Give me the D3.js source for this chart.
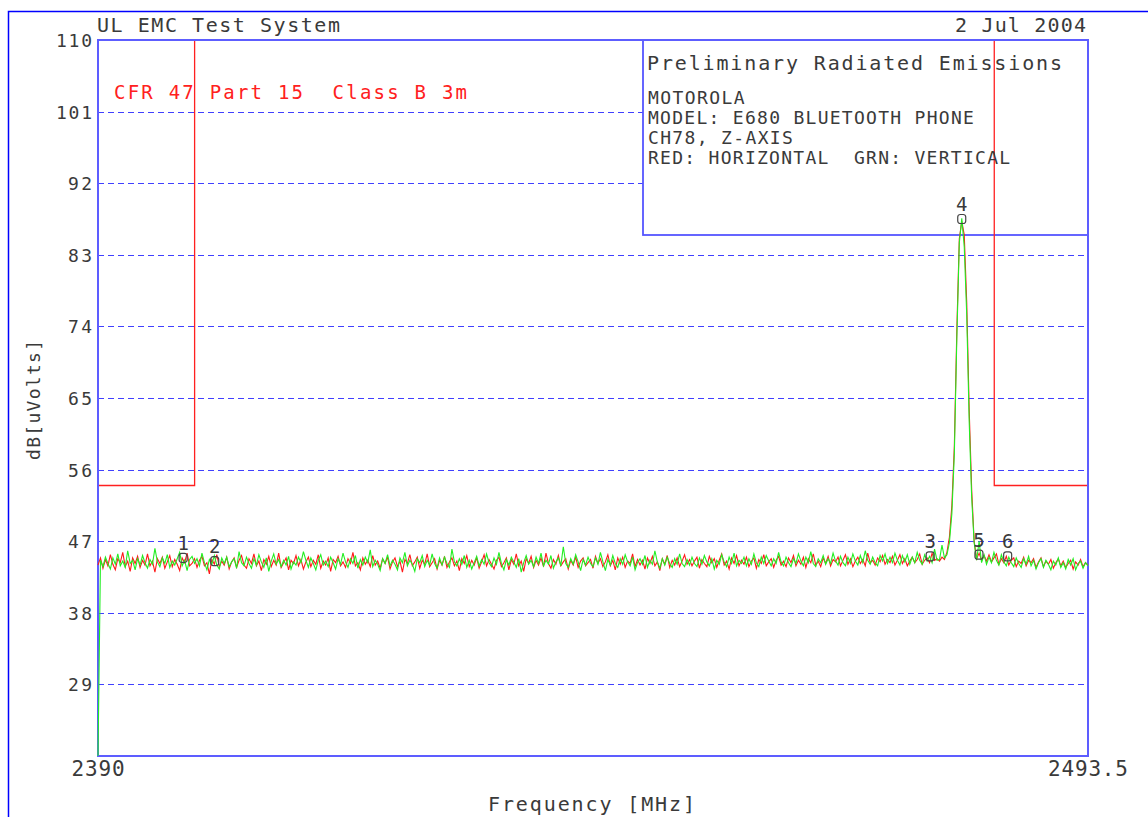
<!DOCTYPE html>
<html>
<head>
<meta charset="utf-8">
<script src="https://cdn.jsdelivr.net/npm/d3@7"></script>
<style>
  html, body { margin: 0; padding: 0; background: #fff; }
  text { font-family: "DejaVu Sans Mono", "Liberation Mono", monospace; fill: #3a3a3a; white-space: pre; }
</style>
</head>
<body>
<div id="chart"></div>
<script>
// sweep settings
const startFreq = 2390
const stopFreq = 2493.5
const yTicks = [29, 38, 47, 56, 65, 74, 83, 92, 101, 110]
const xTickLabels = ['2390', '2493.5']

// limit line: CFR 47 Part 15 Class B 3m (restricted bands)
const limitFreqs = [2390, 2400.1, 2400.1, 2483.7, 2483.7, 2493.5]
const limitLevels = [54, 54, 110, 110, 54, 54]

// horizontal trace (red), 401 sweep points, dB[uV]
const redTrace = [
  44.0,44.9,43.6,44.7,43.9,45.3,44.1,43.4,44.8,44.3,45.6,43.8,44.5,43.2,44.9,44.2,45.1,43.7,44.6,44.0,
  45.4,43.9,44.5,43.1,44.8,44.2,45.0,43.6,44.4,45.2,43.8,44.7,44.1,43.3,44.9,44.3,45.5,43.9,44.2,44.8,
  43.7,44.6,45.1,43.9,44.3,42.9,44.7,44.1,45.3,43.8,44.5,44.0,45.0,43.5,44.4,44.9,43.7,44.6,45.2,44.0,
  43.6,44.8,44.2,45.4,43.9,44.5,43.3,44.7,44.1,45.1,43.8,44.6,44.0,45.5,43.7,44.3,44.9,43.4,44.6,44.2,
  45.2,43.9,44.7,43.5,44.4,45.0,43.8,44.6,44.1,45.3,43.6,44.5,44.0,44.9,43.2,44.7,44.3,45.1,43.9,44.4,
  43.7,44.8,44.2,45.6,43.9,44.3,43.4,44.9,44.1,44.6,43.8,45.2,44.0,44.5,43.6,44.8,44.2,45.0,43.5,44.4,
  44.9,43.8,44.5,43.1,44.7,44.2,45.3,43.9,44.4,45.0,43.6,44.6,44.1,45.4,43.8,44.3,44.8,43.5,44.6,44.0,
  45.1,43.7,44.4,44.9,43.9,44.5,43.3,44.8,44.2,45.2,43.8,44.6,44.0,44.9,43.6,44.4,45.3,43.9,44.7,44.1,
  43.5,44.6,45.0,43.8,44.3,44.9,43.4,44.7,44.1,45.4,43.9,44.5,43.2,44.8,44.2,45.1,43.7,44.6,44.0,44.9,
  43.8,45.5,44.2,43.6,44.7,44.1,45.2,43.9,44.4,44.8,43.5,44.6,44.0,45.0,43.7,44.5,44.9,43.9,44.3,44.7,
  43.6,45.1,44.2,44.8,43.8,44.4,45.3,43.9,44.6,43.4,44.9,44.1,45.0,43.7,44.5,44.2,45.4,43.8,44.7,44.0,
  44.6,43.5,44.9,44.2,45.1,43.9,44.4,43.3,44.8,44.1,45.2,43.7,44.6,44.0,44.9,43.8,44.5,45.3,44.1,44.7,
  43.9,44.5,45.0,43.6,44.7,44.2,43.8,45.1,44.3,44.8,43.7,44.6,45.4,44.0,44.5,43.5,44.9,44.2,45.2,43.9,
  44.6,44.1,45.0,43.8,44.5,44.9,43.6,44.7,44.2,45.3,43.9,44.4,44.8,43.7,44.6,45.1,44.0,44.5,43.8,44.9,
  44.3,45.2,43.9,44.6,44.1,45.0,43.7,44.8,44.3,45.4,44.0,44.5,43.8,44.9,44.2,45.1,43.9,44.7,44.4,45.0,
  43.9,44.6,45.3,44.1,44.8,43.8,44.5,45.0,44.2,44.7,43.9,45.5,44.3,44.6,44.0,44.9,44.4,45.2,44.1,44.7,
  44.3,45.1,44.0,44.6,45.3,44.2,44.8,43.9,44.5,45.0,44.3,44.7,45.4,44.1,44.6,44.9,44.3,45.5,44.6,44.8,
  44.5,45.0,44.7,45.6,47.5,51.5,59.0,73.5,85.0,87.2,85.5,77.0,63.5,53.5,47.0,44.8,45.5,44.6,45.2,44.5,
  45.3,44.4,44.9,45.4,44.1,44.8,44.3,45.1,44.0,44.6,44.9,43.8,44.5,44.2,45.0,43.9,44.6,44.3,44.8,43.7,
  44.4,44.9,43.8,44.5,44.1,44.7,43.6,44.3,44.8,43.9,44.5,43.7,44.2,44.6,43.5,44.4,44.0,44.7,43.8,44.3,
  44.0
]

// vertical trace (green), 401 sweep points, dB[uV]
const greenTrace = [
  20.0,44.6,43.8,45.0,44.2,43.5,44.9,44.1,45.4,43.9,44.5,43.7,45.8,44.2,44.6,43.4,44.8,44.0,45.2,44.3,
  43.6,44.7,44.1,46.1,44.4,43.8,44.9,44.2,45.3,43.7,44.5,44.0,44.8,45.6,43.9,44.6,43.3,44.7,45.1,44.2,
  44.8,43.9,45.5,44.3,43.4,44.7,44.1,45.2,44.0,43.5,44.9,44.2,45.0,43.8,44.4,44.8,43.6,45.7,44.3,43.9,
  45.0,44.2,43.6,44.8,44.0,45.3,44.4,43.7,44.9,43.2,44.5,45.4,44.1,44.7,43.8,44.6,44.0,45.1,43.5,44.4,
  44.0,45.0,44.3,45.7,44.6,43.7,44.9,44.2,43.4,44.6,45.3,44.0,44.5,43.8,45.0,44.3,43.5,44.8,44.1,45.5,
  44.4,43.7,44.8,44.2,45.2,43.6,44.7,44.0,45.0,44.3,45.9,43.8,44.6,44.1,43.3,44.8,44.2,45.3,43.9,44.6,
  44.1,43.4,44.9,44.3,45.6,43.9,44.6,44.1,43.2,44.8,44.3,45.2,43.8,44.6,44.0,45.4,44.2,43.6,44.9,44.0,
  45.0,44.2,43.7,46.0,44.4,43.9,44.8,44.1,45.2,43.7,44.6,43.5,44.3,45.1,43.9,44.7,44.1,45.4,44.3,43.8,
  44.9,44.1,45.6,44.2,43.4,44.7,44.0,45.0,44.4,43.7,44.8,43.1,44.3,45.2,44.1,44.6,43.8,45.0,44.2,45.5,
  43.9,44.6,44.1,45.2,43.6,44.4,44.9,43.9,46.3,44.2,43.7,44.8,44.1,45.3,44.4,43.3,44.7,44.0,45.0,44.2,
  43.8,44.9,44.1,45.6,44.4,43.3,44.7,44.0,45.2,44.2,43.7,44.8,44.1,45.3,44.4,43.9,45.0,43.4,44.3,44.8,
  44.1,45.2,43.7,44.6,44.1,45.8,44.4,43.6,44.8,44.0,45.0,44.2,43.7,44.8,44.1,45.4,44.2,43.8,44.7,44.0,
  45.0,44.2,43.8,44.9,44.1,45.2,44.4,43.9,44.8,43.5,44.6,44.1,45.3,44.4,43.8,45.0,44.2,45.5,43.9,44.6,
  44.2,45.0,43.9,44.8,44.1,45.4,44.3,43.8,45.0,44.2,45.2,44.5,43.9,44.8,44.2,45.6,44.4,43.9,45.0,44.3,
  43.8,44.8,44.2,45.4,44.5,43.9,45.0,44.3,45.7,44.2,43.8,44.8,44.3,45.2,44.1,44.8,44.2,45.5,44.5,44.0,
  45.1,44.3,43.9,45.0,44.2,45.4,44.5,44.0,45.2,44.3,45.8,44.6,44.1,45.0,44.3,43.9,45.2,44.5,45.4,44.2,
  45.0,44.3,45.5,44.6,44.0,45.2,44.4,45.3,44.1,45.0,44.3,45.6,44.6,44.1,45.3,44.5,45.1,44.3,46.0,44.6,
  44.7,46.5,44.9,45.3,46.8,50.5,58.0,72.5,84.5,87.6,84.0,75.5,62.0,52.5,46.8,44.6,47.0,44.3,45.3,44.1,
  45.0,44.3,45.6,44.6,44.0,45.3,44.4,43.9,45.0,44.3,43.8,44.9,44.2,43.7,44.8,44.1,45.1,43.9,44.6,43.5,
  44.3,44.8,43.7,44.6,44.1,43.4,44.5,44.0,44.9,43.7,44.3,43.5,44.7,44.0,44.8,43.4,44.2,44.5,43.6,44.3,
  43.9
]

// peak markers
const markerIds = ['1', '2', '3', '4', '5', '6']
const markerFreqs = [2398.9, 2402.2, 2477.0, 2480.3, 2482.1, 2485.1]
const markerLevels = [44.9, 44.5, 45.1, 87.5, 45.3, 45.1]

// annotation texts
const headerLeft = 'UL EMC Test System'
const headerRight = '2 Jul 2004'
const limitTitle = 'CFR 47 Part 15  Class B 3m'
const boxTitle = 'Preliminary Radiated Emissions'
const boxLines = ['MOTOROLA', 'MODEL: E680 BLUETOOTH PHONE', 'CH78, Z-AXIS', 'RED: HORIZONTAL  GRN: VERTICAL']

const width = 1148
const height = 817
const plot = { left: 98, right: 1088, top: 40, bottom: 756 }

const svg = d3.select('#chart').append('svg')
  .attr('width', width)
  .attr('height', height)

const x = d3.scaleLinear().domain([startFreq, stopFreq]).range([plot.left, plot.right])
const y = d3.scaleLinear().domain([20, 110]).range([plot.bottom, plot.top])

const sweepFreq = (i, n) => startFreq + i * (stopFreq - startFreq) / (n - 1)
const crisp = v => Math.round(v) + 0.5

// outer frame (only left and top edges fall inside the picture)
svg.append('path')
  .attr('d', `M8.5,${height + 5}V11.5H${width + 5}`)
  .attr('fill', 'none')
  .attr('stroke', '#0000ff')
  .attr('stroke-width', 1.5)

// grid
svg.append('g')
  .selectAll('line')
  .data(yTicks.filter(d => d < 110))
  .join('line')
  .attr('x1', plot.left)
  .attr('x2', plot.right)
  .attr('y1', d => crisp(y(d)))
  .attr('y2', d => crisp(y(d)))
  .attr('stroke', '#4040ff')
  .attr('stroke-width', 1)
  .attr('stroke-dasharray', '6,4')

// info box, white so it hides the grid behind it
svg.append('rect')
  .attr('x', 643)
  .attr('y', plot.top)
  .attr('width', plot.right - 643)
  .attr('height', 195)
  .attr('fill', '#fff')
  .attr('stroke', '#5555ff')
  .attr('stroke-width', 1.8)

// limit
svg.append('path')
  .datum(limitFreqs.map((f, i) => [f, limitLevels[i]]))
  .attr('d', d3.line().x(d => x(d[0])).y(d => y(d[1])))
  .attr('fill', 'none')
  .attr('stroke', '#ff2020')
  .attr('stroke-width', 1.3)

// plot border
svg.append('rect')
  .attr('x', plot.left)
  .attr('y', plot.top)
  .attr('width', plot.right - plot.left)
  .attr('height', plot.bottom - plot.top)
  .attr('fill', 'none')
  .attr('stroke', '#5d5dff')
  .attr('stroke-width', 2)

const trace = d3.line()
  .x((d, i, arr) => x(sweepFreq(i, arr.length)))
  .y(d => y(d))

svg.append('path')
  .datum(redTrace)
  .attr('d', trace)
  .attr('fill', 'none')
  .attr('stroke', '#ff1a1a')
  .attr('stroke-width', 1.1)

svg.append('path')
  .datum(greenTrace)
  .attr('d', trace)
  .attr('fill', 'none')
  .attr('stroke', '#22ee22')
  .attr('stroke-width', 1.1)

// markers
const mk = svg.append('g')
  .selectAll('g')
  .data(markerIds.map((id, i) => ({ id, f: markerFreqs[i], v: markerLevels[i] })))
  .join('g')
  .attr('transform', d => `translate(${x(d.f)},${y(d.v)})`)

mk.append('rect')
  .attr('x', -4)
  .attr('y', -4.5)
  .attr('width', 8)
  .attr('height', 9)
  .attr('rx', 2.5)
  .attr('fill', 'none')
  .attr('stroke', '#444')
  .attr('stroke-width', 1.2)

mk.append('text')
  .attr('y', -8)
  .attr('text-anchor', 'middle')
  .style('font-size', '19px')
  .text(d => d.id)

// y tick labels
const yAxis = svg.append('g')
  .attr('transform', `translate(${plot.left},0)`)
  .call(d3.axisLeft(y).tickValues(yTicks).tickSize(0).tickPadding(0).tickFormat(d3.format('d')))
yAxis.select('.domain').remove()
yAxis.selectAll('text')
  .attr('x', -6)
  .attr('dy', '0.36em')
  .attr('textLength', d => String(d).length * 12)
  .attr('lengthAdjust', 'spacing')
  .style('font-size', '18px')
  .style('font-family', '"DejaVu Sans Mono", monospace')
  .attr('fill', '#3a3a3a')

// x labels: only start and stop frequencies
svg.append('g')
  .selectAll('text')
  .data(xTickLabels)
  .join('text')
  .attr('x', d => x(+d))
  .attr('y', 776)
  .attr('text-anchor', 'middle')
  .attr('textLength', d => d.length * 13.3)
  .attr('lengthAdjust', 'spacing')
  .style('font-size', '21px')
  .text(d => d)

// titles and annotations
const label = (txt, tx, ty, size, len, color) => svg.append('text')
  .attr('x', tx)
  .attr('y', ty)
  .attr('textLength', len)
  .attr('lengthAdjust', 'spacing')
  .style('font-size', size + 'px')
  .style('fill', color || '#3a3a3a')
  .text(txt)

label(headerLeft, 97, 32, 20, 243)
label(headerRight, 955, 32, 20, 131)
label(limitTitle, 114, 99, 19, 353, '#ff2020')
label(boxTitle, 647, 70, 20, 415)
boxLines.forEach((t, i) => label(t, 648, 104 + i * 20, 18, t.length * 12.07))
label('Frequency [MHz]', 488, 811, 20, 207)

svg.append('text')
  .attr('transform', 'translate(40,400) rotate(-90)')
  .attr('text-anchor', 'middle')
  .attr('textLength', 120)
  .attr('lengthAdjust', 'spacing')
  .style('font-size', '18px')
  .text('dB[uVolts]')
</script>
</body>
</html>
